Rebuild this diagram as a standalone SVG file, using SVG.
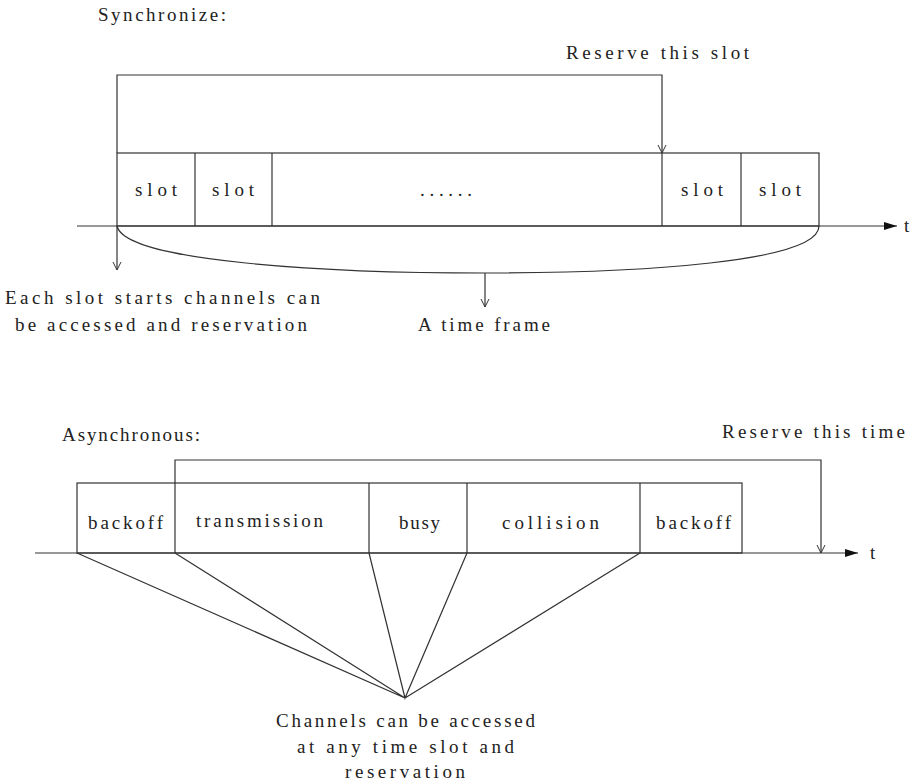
<svg xmlns="http://www.w3.org/2000/svg" width="919" height="784" viewBox="0 0 919 784">
<style>
text{font-family:"Liberation Serif","DejaVu Serif",serif;font-size:19px;fill:#222}
.ln{fill:none;stroke:#333;stroke-width:1.2}
</style>
<defs>
<marker id="open" markerWidth="10" markerHeight="10" refX="9" refY="5" orient="auto" markerUnits="userSpaceOnUse" viewBox="0 0 10 10">
<path d="M1,1 L9,5 L1,9" fill="none" stroke="#333" stroke-width="1"/>
</marker>
<marker id="fill" markerWidth="14" markerHeight="10" refX="13" refY="5" orient="auto" markerUnits="userSpaceOnUse" viewBox="0 0 14 10">
<path d="M0,1 L13,5 L0,9 Z" fill="#111"/>
</marker>
</defs>
<rect width="919" height="784" fill="#fff"/>

<g id="labels">
<text x="98" y="21" textLength="128" lengthAdjust="spacing">Synchronize:</text>
<text x="566" y="59" textLength="183" lengthAdjust="spacing">Reserve this slot</text>
<text x="5" y="304" textLength="315" lengthAdjust="spacing">Each slot starts channels can</text>
<text x="15" y="331" textLength="292" lengthAdjust="spacing">be accessed and reservation</text>
<text x="418" y="331" textLength="132" lengthAdjust="spacing">A time frame</text>
<text x="62" y="441" textLength="138" lengthAdjust="spacing">Asynchronous:</text>
<text x="722" y="438" textLength="183" lengthAdjust="spacing">Reserve this time</text>
<text x="276" y="727" textLength="259" lengthAdjust="spacing">Channels can be accessed</text>
<text x="297" y="753" textLength="217" lengthAdjust="spacing">at any time slot and</text>
<text x="345" y="778" textLength="120" lengthAdjust="spacing">reservation</text>
<text x="904" y="232">t</text>
<text x="870" y="559">t</text>
</g>

<g id="sync-frame">
<rect class="ln" x="117" y="153" width="702" height="73"/>
<line class="ln" x1="195" y1="153" x2="195" y2="226"/>
<line class="ln" x1="272" y1="153" x2="272" y2="226"/>
<line class="ln" x1="662" y1="153" x2="662" y2="226"/>
<line class="ln" x1="741" y1="153" x2="741" y2="226"/>
<text x="135" y="196" textLength="42" lengthAdjust="spacing">slot</text>
<text x="212" y="196" textLength="42" lengthAdjust="spacing">slot</text>
<text x="420" y="196" textLength="52" lengthAdjust="spacing">......</text>
<text x="681" y="196" textLength="42" lengthAdjust="spacing">slot</text>
<text x="759" y="196" textLength="42" lengthAdjust="spacing">slot</text>
</g>

<g id="async-frame">
<rect class="ln" x="77" y="483" width="665" height="70"/>
<line class="ln" x1="175" y1="483" x2="175" y2="553"/>
<line class="ln" x1="369" y1="483" x2="369" y2="553"/>
<line class="ln" x1="467" y1="483" x2="467" y2="553"/>
<line class="ln" x1="640" y1="483" x2="640" y2="553"/>
<text x="88" y="529" textLength="75" lengthAdjust="spacing">backoff</text>
<text x="196" y="527" textLength="127" lengthAdjust="spacing">transmission</text>
<text x="399" y="529" textLength="41" lengthAdjust="spacing">busy</text>
<text x="502" y="529" textLength="97" lengthAdjust="spacing">collision</text>
<text x="656" y="529" textLength="75" lengthAdjust="spacing">backoff</text>
</g>

<g id="connectors">
<line class="ln" x1="77" y1="226" x2="897" y2="226" marker-end="url(#fill)"/>
<path class="ln" d="M117,153 L117,75 L662,75 L662,153" marker-end="url(#open)"/>
<line class="ln" x1="117" y1="226" x2="117" y2="270" marker-end="url(#open)"/>
<path class="ln" d="M117,226 C125,262 330,273 485,273 C640,273 819,262 819,226"/>
<line class="ln" x1="485" y1="273" x2="485" y2="307" marker-end="url(#open)"/>

<line class="ln" x1="35" y1="553" x2="858" y2="553" marker-end="url(#fill)"/>
<path class="ln" d="M175,483 L175,460 L821,460 L821,553" marker-end="url(#open)"/>
<path class="ln" d="M77,553 L405,698 L175,553 M369,553 L405,698 L467,553 M640,553 L405,698"/>
</g>
</svg>
